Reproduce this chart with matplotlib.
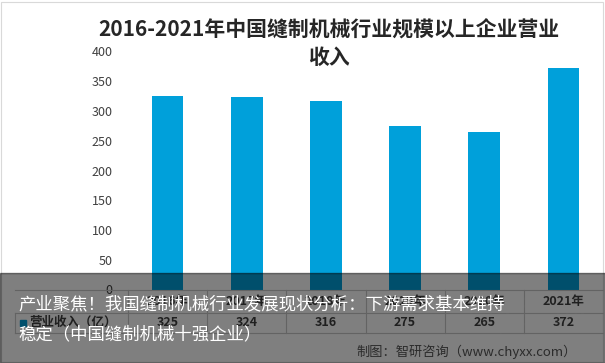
import matplotlib.pyplot as plt
from matplotlib.patches import Rectangle
from matplotlib.lines import Line2D
from matplotlib import transforms

# 数据
years = ['2016年', '2017年', '2018年', '2019年', '2020年', '2021年']
revenue = [325, 324, 316, 275, 265, 372]
series_name = '营业收入（亿）'
y_ticks = [0, 50, 100, 150, 200, 250, 300, 350, 400]

title = '2016-2021年中国缝制机械行业规模以上企业营业\n收入'
caption = '产业聚焦！我国缝制机械行业发展现状分析：下游需求基本维持\n稳定（中国缝制机械十强企业）'
source = '制图：智研咨询（www.chyxx.com）'

bar_color = '#00A0DA'
W, H = 605, 363

plt.rcParams['font.family'] = ['Noto Sans CJK SC', 'DejaVu Sans']
fig = plt.figure(figsize=(W / 100, H / 100), dpi=100)

# 坐标区（像素换算）
left, right, top, bottom = 128, 603, 51.5, 289.5
ax = fig.add_axes([left / W, 1 - bottom / H, (right - left) / W, (bottom - top) / H])
x = list(range(len(years)))
ax.bar(x, revenue, width=0.4, color=bar_color, zorder=2)
ax.set_xlim(-0.5, len(years) - 0.5)
ax.set_ylim(0, 400)
ax.set_yticks(y_ticks)
ax.tick_params(axis='y', length=0, labelsize=9, colors='#404040', pad=11)
ax.set_xticks([])
for s in ax.spines.values():
    s.set_visible(False)

fig.text(329 / W, 1 - 44 / H, title, ha='center', va='center', fontsize=15,
         fontweight='bold', color='#262626', linespacing=1.35)

# 数据表
trans = transforms.blended_transform_factory(ax.transData, fig.transFigure)
row_y = [290, 313, 333]
line_c = '#c8c8c8'
for yy in row_y:
    fig.add_artist(Line2D([15 / W, right / W], [1 - yy / H] * 2, color=line_c, lw=0.8))
fig.add_artist(Line2D([15 / W, 15 / W], [1 - 313 / H, 1 - 333 / H], color=line_c, lw=0.8))
for i in range(len(years) + 1):
    xb = i - 0.5
    ax.add_artist(Line2D([xb, xb], [1 - 290 / H, 1 - 333 / H], transform=trans,
                         color=line_c, lw=0.8, clip_on=False))
for i, (yr, v) in enumerate(zip(years, revenue)):
    ax.text(i, 1 - 301.5 / H, yr, transform=trans, ha='center', va='center',
            fontsize=9, fontweight='bold', color='#404040')
    ax.text(i, 1 - 322.5 / H, str(v), transform=trans, ha='center', va='center',
            fontsize=9, fontweight='bold', color='#404040')
fig.add_artist(Rectangle((20 / W, 1 - 326 / H), 6 / W, 6 / H, color=bar_color,
                         transform=fig.transFigure))
fig.text(29 / W, 1 - 322.5 / H, series_name, ha='left', va='center', fontsize=9,
         fontweight='bold', color='#404040')

# 边框
fig.add_artist(Rectangle((1 / W, 1 / H), (W - 3) / W, (H - 3) / H, fill=False,
                         edgecolor='#d9d9d9', lw=0.8, transform=fig.transFigure))

# 水印
fig.text(515 / W, 1 - 314 / H, '智研咨询', ha='center', va='center', fontsize=26,
         color='white', alpha=0.08, zorder=9)
fig.text(512 / W, 1 - 339 / H, 'w w w . c h y x x . c o m', ha='center', va='center',
         fontsize=11, color='white', alpha=0.08, zorder=9)

# 半透明遮罩与标题文字
fig.add_artist(Rectangle((0, 0), 1, (H - 273) / H, color='black', alpha=0.5,
                         transform=fig.transFigure, zorder=10))
fig.text(18 / W, 1 - 319.5 / H, caption, ha='left', va='center', fontsize=12.5,
         color='white', linespacing=1.85, zorder=11)
fig.text(577 / W, 1 - 352 / H, source, ha='right', va='center', fontsize=9.5,
         color='#2b2b2b', zorder=11)

fig.savefig('out.png', dpi=100)
